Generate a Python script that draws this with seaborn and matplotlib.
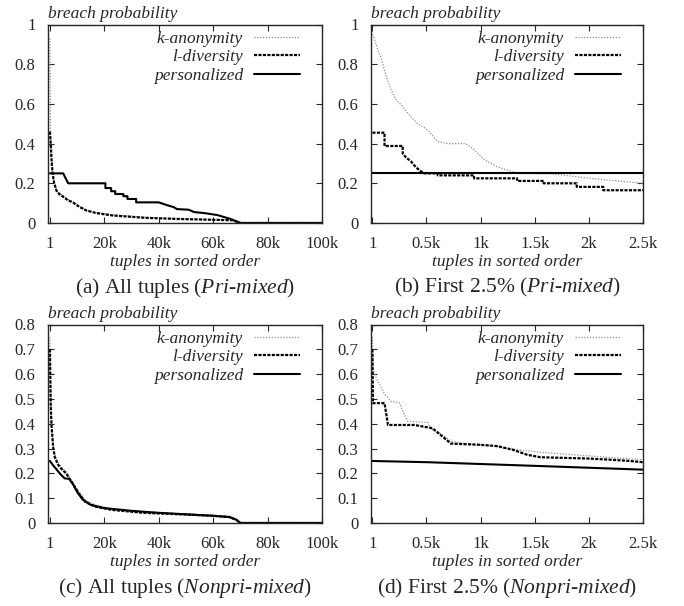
import numpy as np
import pandas as pd
import matplotlib
matplotlib.use("Agg")
import matplotlib.pyplot as plt
import seaborn as sns

# ---------------- data ----------------
methods = ["k-anonymity", "l-diversity", "personalized"]

# (a) All tuples, Pri-mixed
k_a_x = [1, 200, 500, 1000, 1500, 2400, 3500, 4900, 6500, 8500, 11000, 13400, 17000, 23000, 35000, 47600, 60000, 67000, 69000, 70000, 100000]
k_a_y = [0.93, 0.45, 0.33, 0.25, 0.21, 0.168, 0.15, 0.137, 0.12, 0.107, 0.083, 0.066, 0.053, 0.041, 0.029, 0.022, 0.018, 0.016, 0.006, 0.0, 0.0]
l_a_x = [1, 300, 700, 1000, 1500, 2400, 3500, 4900, 6500, 8500, 11000, 13400, 17000, 23000, 35000, 47600, 60000, 67000, 69000, 70000, 100000]
l_a_y = [0.46, 0.40, 0.30, 0.25, 0.205, 0.163, 0.145, 0.132, 0.116, 0.103, 0.080, 0.063, 0.050, 0.038, 0.026, 0.020, 0.016, 0.014, 0.005, 0.0, 0.0]
p_a_x = [1, 4900, 6700, 20400, 20400, 22500, 22500, 24000, 24000, 27000, 27000, 28500, 28500, 31700, 31700, 40000, 43000, 45500, 46700, 51000, 53000, 56700, 61600, 64000, 66500, 68300, 70000, 100000]
p_a_y = [0.25, 0.25, 0.20, 0.20, 0.176, 0.176, 0.16, 0.16, 0.146, 0.146, 0.135, 0.135, 0.121, 0.121, 0.104, 0.104, 0.09, 0.08, 0.07, 0.067, 0.055, 0.05, 0.04, 0.03, 0.02, 0.01, 0.0, 0.0]

# (b) First 2.5%, Pri-mixed
k_b_x = [1, 12, 52, 83, 128, 174, 220, 266, 327, 419, 511, 603, 695, 863, 939, 1031, 1154, 1337, 1675, 2010, 2500]
k_b_y = [0.95, 0.94, 0.87, 0.83, 0.74, 0.67, 0.62, 0.595, 0.553, 0.50, 0.47, 0.41, 0.40, 0.40, 0.37, 0.32, 0.283, 0.25, 0.247, 0.225, 0.20]
l_b_x = [1, 113, 113, 281, 281, 312, 358, 404, 450, 478, 604, 604, 940, 940, 1337, 1337, 1582, 1582, 1888, 1888, 2133, 2133, 2500]
l_b_y = [0.455, 0.455, 0.388, 0.388, 0.35, 0.33, 0.31, 0.28, 0.26, 0.25, 0.25, 0.24, 0.24, 0.225, 0.225, 0.212, 0.212, 0.20, 0.20, 0.182, 0.182, 0.165, 0.165]
p_b_x = [1, 2500]
p_b_y = [0.25, 0.25]

# (c) All tuples, Nonpri-mixed
k_c_x = [1, 300, 600, 1200, 1800, 3000, 4500, 6000, 8300, 10700, 13000, 16700, 22600, 34500, 50000, 60000, 66000, 68500, 70000, 100000]
k_c_y = [0.75, 0.50, 0.40, 0.315, 0.275, 0.245, 0.222, 0.205, 0.165, 0.125, 0.092, 0.073, 0.058, 0.045, 0.037, 0.031, 0.026, 0.015, 0.0, 0.0]
l_c_x = [1, 300, 600, 1200, 1800, 3000, 4500, 6000, 8300, 10700, 13000, 16700, 22600, 34500, 50000, 60000, 66000, 68500, 70000, 100000]
l_c_y = [0.70, 0.48, 0.39, 0.305, 0.265, 0.235, 0.215, 0.200, 0.160, 0.118, 0.085, 0.066, 0.053, 0.041, 0.034, 0.029, 0.024, 0.013, 0.0, 0.0]
p_c_x = [1, 1000, 2500, 4000, 5400, 7000, 8300, 10000, 12000, 15000, 20000, 30000, 40000, 50000, 60000, 66000, 68500, 70000, 100000]
p_c_y = [0.25, 0.235, 0.215, 0.195, 0.18, 0.178, 0.16, 0.125, 0.095, 0.073, 0.06, 0.049, 0.041, 0.035, 0.029, 0.024, 0.013, 0.0, 0.0]

# (d) First 2.5%, Nonpri-mixed
k_d_x = [1, 8, 21, 52, 113, 174, 251, 282, 327, 511, 542, 633, 725, 848, 1031, 1245, 1551, 1857, 2163, 2500]
k_d_y = [0.75, 0.62, 0.60, 0.57, 0.52, 0.49, 0.485, 0.45, 0.41, 0.405, 0.38, 0.36, 0.33, 0.32, 0.315, 0.30, 0.285, 0.275, 0.265, 0.255]
l_d_x = [1, 6, 113, 145, 389, 556, 726, 1002, 1154, 1300, 1430, 1553, 1980, 2200, 2380, 2500]
l_d_y = [0.70, 0.483, 0.483, 0.395, 0.395, 0.382, 0.32, 0.315, 0.31, 0.295, 0.275, 0.265, 0.26, 0.255, 0.25, 0.245]
p_d_x = [1, 511, 1522, 2500]
p_d_y = [0.25, 0.245, 0.23, 0.215]

captions = ["(a) All tuples (", "(b) First 2.5% (", "(c) All tuples (", "(d) First 2.5% ("]
caption_sets = ["Pri-mixed", "Pri-mixed", "Nonpri-mixed", "Nonpri-mixed"]

full_ticks = [1, 20000, 40000, 60000, 80000, 100000]
full_ticklabels = ["1", "20k", "40k", "60k", "80k", "100k"]
part_ticks = [1, 500, 1000, 1500, 2000, 2500]
part_ticklabels = ["1", "0.5k", "1k", "1.5k", "2k", "2.5k"]
y_ticks_top = [0, 0.2, 0.4, 0.6, 0.8, 1]
y_ticklabels_top = ["0", "0.2", "0.4", "0.6", "0.8", "1"]
y_ticks_bot = [0, 0.1, 0.2, 0.3, 0.4, 0.5, 0.6, 0.7, 0.8]
y_ticklabels_bot = ["0", "0.1", "0.2", "0.3", "0.4", "0.5", "0.6", "0.7", "0.8"]

# ---------------- style ----------------
sns.set_style("ticks")
plt.rcParams.update({
    "font.family": ["Liberation Serif", "DejaVu Serif"],
    "mathtext.fontset": "custom",
    "mathtext.rm": "Liberation Serif",
    "mathtext.it": "Liberation Serif:italic",
    "xtick.direction": "in",
    "ytick.direction": "in",
    "xtick.top": True,
    "ytick.right": True,
    "axes.linewidth": 1.0,
    "xtick.major.size": 4,
    "ytick.major.size": 4,
    "xtick.major.width": 0.8,
    "ytick.major.width": 0.8,
})

styles = {
    "k-anonymity": dict(color="#8c8c8c", lw=0.9, linestyle=(0, (1.0, 1.3))),
    "l-diversity": dict(color="black", lw=1.6, linestyle=(0, (1.4, 0.6))),
    "personalized": dict(color="black", lw=1.5, linestyle="-"),
}

W, H = 684, 606
fig = plt.figure(figsize=(W / 100, H / 100), dpi=100)

def fx(px):
    return px / W

def fy(py):
    return 1 - py / H

panels = [
    dict(rect=(48, 24.5, 322, 223), data=[(k_a_x, k_a_y), (l_a_x, l_a_y), (p_a_x, p_a_y)],
         xlim=(-700, 100000), xt=full_ticks, xtl=full_ticklabels, ylim=(0, 1), yt=y_ticks_top, ytl=y_ticklabels_top),
    dict(rect=(371, 24.5, 643, 223), data=[(k_b_x, k_b_y), (l_b_x, l_b_y), (p_b_x, p_b_y)],
         xlim=(-12, 2500), xt=part_ticks, xtl=part_ticklabels, ylim=(0, 1), yt=y_ticks_top, ytl=y_ticklabels_top),
    dict(rect=(48, 324.5, 322, 523), data=[(k_c_x, k_c_y), (l_c_x, l_c_y), (p_c_x, p_c_y)],
         xlim=(-700, 100000), xt=full_ticks, xtl=full_ticklabels, ylim=(0, 0.8), yt=y_ticks_bot, ytl=y_ticklabels_bot),
    dict(rect=(371, 324.5, 643, 523), data=[(k_d_x, k_d_y), (l_d_x, l_d_y), (p_d_x, p_d_y)],
         xlim=(-12, 2500), xt=part_ticks, xtl=part_ticklabels, ylim=(0, 0.8), yt=y_ticks_bot, ytl=y_ticklabels_bot),
]

for i, p in enumerate(panels):
    l, t, r, b = p["rect"]
    ax = fig.add_axes([fx(l), fy(b), fx(r) - fx(l), fy(t) - fy(b)])
    for name, (xs, ys) in zip(methods, p["data"]):
        df = pd.DataFrame({"x": xs, "y": ys})
        sns.lineplot(data=df, x="x", y="y", ax=ax, estimator=None, sort=False,
                     label=name, **styles[name])
    ax.set_xlim(*p["xlim"])
    ax.set_ylim(*p["ylim"])
    ax.set_xticks(p["xt"])
    ax.set_xticklabels(p["xtl"])
    ax.set_yticks(p["yt"])
    ax.set_yticklabels(p["ytl"])
    ax.tick_params(axis="x", labelsize=12, pad=9)
    ax.tick_params(axis="y", labelsize=12, pad=9)
    ax.set_ylabel("")
    ax.set_xlabel("tuples in sorted order", fontsize=12.5, fontstyle="italic", labelpad=2)
    ax.text(0, 1.015, "breach probability", transform=ax.transAxes, fontsize=12.5,
            fontstyle="italic", ha="left", va="bottom")
    anchor_x = 1 - 22 / (r - l)
    anchor_y = 1 - 6.5 / (b - t)
    leg = ax.legend(loc="upper right", bbox_to_anchor=(anchor_x, anchor_y), frameon=False,
                    markerfirst=False,
                    prop={"family": "Liberation Serif", "style": "italic", "size": 12.5},
                    handlelength=2.65, handletextpad=0.63, labelspacing=0.12,
                    borderaxespad=0.0, borderpad=0.0)
    # caption
    ax.text(0.5, -0.325, captions[i] + r"$\it{" + caption_sets[i].replace("-", "}$-$\\it{") + r"}$" + ")",
            transform=ax.transAxes, ha="center", va="center", fontsize=15.5)

fig.savefig("out.png", dpi=100)
